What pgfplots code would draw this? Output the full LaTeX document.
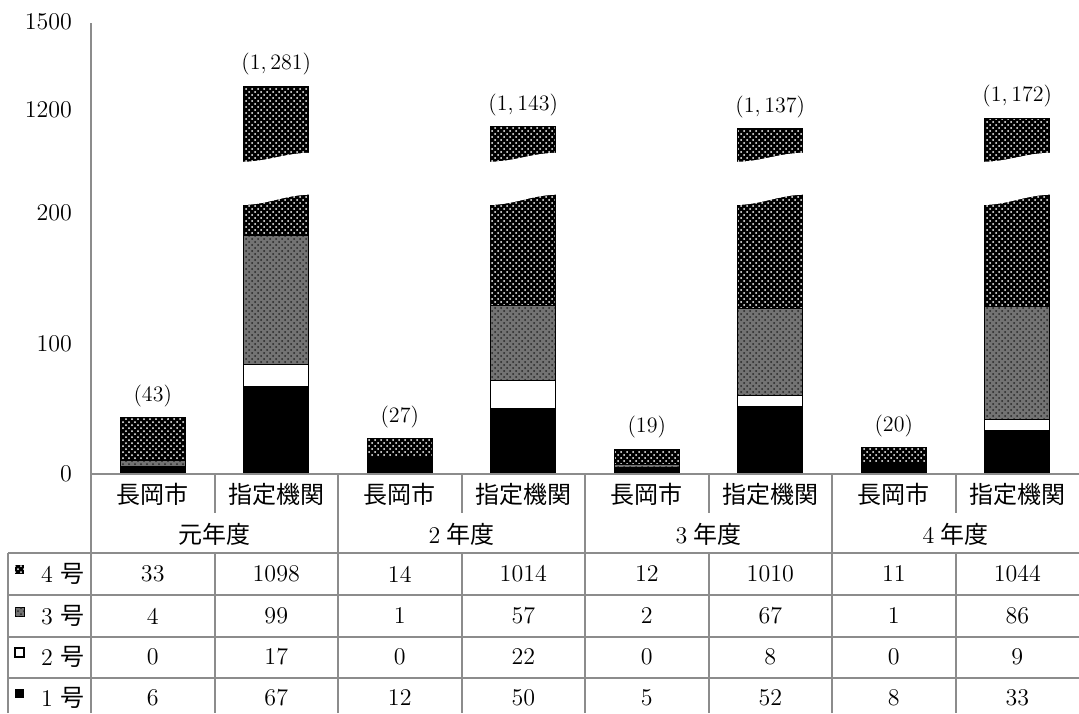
\documentclass[border=0pt]{standalone}
\usepackage{fontspec}
\usepackage{pgfplots}
\pgfplotsset{compat=1.18}
\usetikzlibrary{patterns}
\newfontfamily\jp{Noto Sans CJK JP}
\definecolor{rule}{RGB}{140,140,140}
\newcommand{\fs}{\fontsize{12}{14}\selectfont}

\pgfplotsset{
  no1/.style={fill=black, draw=black, line width=0.5pt},
  no2/.style={fill=white, draw=black, line width=0.5pt},
  no3/.style={fill=black!55, draw=black, line width=0.5pt,
    postaction={pattern=crosshatch dots, pattern color=black!85}},
  no4/.style={fill=black, draw=black, line width=0.5pt,
    postaction={pattern=crosshatch dots, pattern color=white}},
  common/.style={
    scale only axis, anchor=south west, width=494pt,
    xmin=0, xmax=8, bar width=0.53,
    axis line style={draw=none}, xtick=\empty,
    major tick length=0pt,
    yticklabel style={font=\fs, xshift=-6pt, /pgf/number format/1000 sep={}},
    nodes near coords style={font=\fontsize{11}{12}\selectfont, text=black, yshift=2pt},
  },
}

\begin{document}
\begin{tikzpicture}
% lower part of the broken axis (1 px = 0.5pt)
\begin{axis}[common, at={(45.5pt,119.5pt)}, height=141pt,
  ymin=0, ymax=216, ybar stacked, ytick={0,100,200}]
\addplot[no1] coordinates {(0.5,6) (1.5,67) (2.5,12) (3.5,50) (4.5,5) (5.5,52) (6.5,8) (7.5,33)};
\addplot[no2] coordinates {(0.5,0) (1.5,17) (2.5,0) (3.5,22) (4.5,0) (5.5,8) (6.5,0) (7.5,9)};
\addplot[no3] coordinates {(0.5,4) (1.5,99) (2.5,1) (3.5,57) (4.5,2) (5.5,67) (6.5,1) (7.5,86)};
\addplot[no4] coordinates {(0.5,33) (1.5,1098) (2.5,14) (3.5,1014) (4.5,12) (5.5,1010) (6.5,11) (7.5,1044)};
\end{axis}

% same frame: totals of the 長岡市 bars and the break of the 指定機関 bars
\begin{axis}[common, at={(45.5pt,119.5pt)}, height=141pt,
  ymin=0, ymax=216, ybar, ytick=\empty]
\addplot[draw=none, fill=none, bar shift=0pt, nodes near coords, point meta=explicit symbolic]
  coordinates {(0.5,43) [(43)] (2.5,27) [(27)] (4.5,19) [(19)] (6.5,20) [(20)]};
\pgfplotsinvokeforeach{1.5,3.5,5.5,7.5}{
  \fill[white] ([xshift=-18pt]axis cs:#1,206) .. controls ([xshift=-4pt]axis cs:#1,206)
    and ([xshift=4pt]axis cs:#1,214) .. ([xshift=18pt]axis cs:#1,214)
    -- ([xshift=18pt]axis cs:#1,230) -- ([xshift=-18pt]axis cs:#1,230) -- cycle;
}
\end{axis}

% upper part of the broken axis
\begin{axis}[common, at={(45.5pt,275pt)}, height=70.5pt,
  ymin=1020, ymax=1500, ybar, ytick={1200,1500}]
\addplot[no4, bar shift=0pt] coordinates {(1.5,1281) (3.5,1143) (5.5,1137) (7.5,1172)};
\addplot[draw=none, fill=none, bar shift=0pt, nodes near coords, point meta=explicit symbolic]
  coordinates {(1.5,1281) [(1,\,281)] (3.5,1143) [(1,\,143)] (5.5,1137) [(1,\,137)] (7.5,1172) [(1,\,172)]};
\pgfplotsinvokeforeach{1.5,3.5,5.5,7.5}{
  \fill[white] ([xshift=-18pt]axis cs:#1,1000) -- ([xshift=-18pt]axis cs:#1,1024)
    .. controls ([xshift=-4pt]axis cs:#1,1024) and ([xshift=4pt]axis cs:#1,1055)
    .. ([xshift=18pt]axis cs:#1,1055) -- ([xshift=18pt]axis cs:#1,1000) -- cycle;
}
\end{axis}

\begin{scope}[x=0.5pt,y=0.5pt]
% axis line and table grid
\begin{scope}[rule, line width=1pt]
\draw (91,0) -- (91,690);
\draw (91,239) -- (1079,239);
\foreach \y in {160,118,76,35} \draw (8,\y) -- (1079,\y);
\draw (8,0) -- (8,160);
\foreach \x in {338,585,832} \draw (\x,0) -- (\x,239);
\foreach \x in {214.5,461.5,708.5,955.5} {
  \draw (\x,239) -- (\x,200);
  \draw (\x,160) -- (\x,0);
}
\end{scope}

% category rows
\foreach \i in {0,1,2,3} {
  \node[font=\fs] at (152.75+247*\i,219) {\jp 長岡市};
  \node[font=\fs] at (276.25+247*\i,219) {\jp 指定機関};
}
\node[font=\fs] at (214.5,179) {\jp 元年度};
\node[font=\fs] at (461.5,179) {2\hspace{3pt}{\jp 年度}};
\node[font=\fs] at (708.5,179) {3\hspace{3pt}{\jp 年度}};
\node[font=\fs] at (955.5,179) {4\hspace{3pt}{\jp 年度}};

% data rows
\foreach \v [count=\i from 0] in {33,1098,14,1014,12,1010,11,1044}
  \node[font=\fs] at (152.75+123.5*\i,139) {\v};
\foreach \v [count=\i from 0] in {4,99,1,57,2,67,1,86}
  \node[font=\fs] at (152.75+123.5*\i,97) {\v};
\foreach \v [count=\i from 0] in {0,17,0,22,0,8,0,9}
  \node[font=\fs] at (152.75+123.5*\i,56) {\v};
\foreach \v [count=\i from 0] in {6,67,12,50,5,52,8,33}
  \node[font=\fs] at (152.75+123.5*\i,15) {\v};

% row headers with legend keys
\fill[black, postaction={pattern=crosshatch dots, pattern color=white}] (15,139) rectangle (24,148);
\filldraw[fill=black!55, draw=black, line width=0.5pt, postaction={pattern=crosshatch dots, pattern color=black!85}] (15,97) rectangle (24,106);
\filldraw[fill=white, draw=black, line width=0.8pt] (15,56) rectangle (24,65);
\fill[black] (15,15) rectangle (24,24);
\node[font=\fs, anchor=west] at (34,139) {4\hspace{4pt}{\jp 号}};
\node[font=\fs, anchor=west] at (34,97) {3\hspace{4pt}{\jp 号}};
\node[font=\fs, anchor=west] at (34,56) {2\hspace{4pt}{\jp 号}};
\node[font=\fs, anchor=west] at (34,15) {1\hspace{4pt}{\jp 号}};

\pgfresetboundingbox
\path[use as bounding box] (0,0) rectangle (1079,713);
\end{scope}
\end{tikzpicture}
\end{document}
